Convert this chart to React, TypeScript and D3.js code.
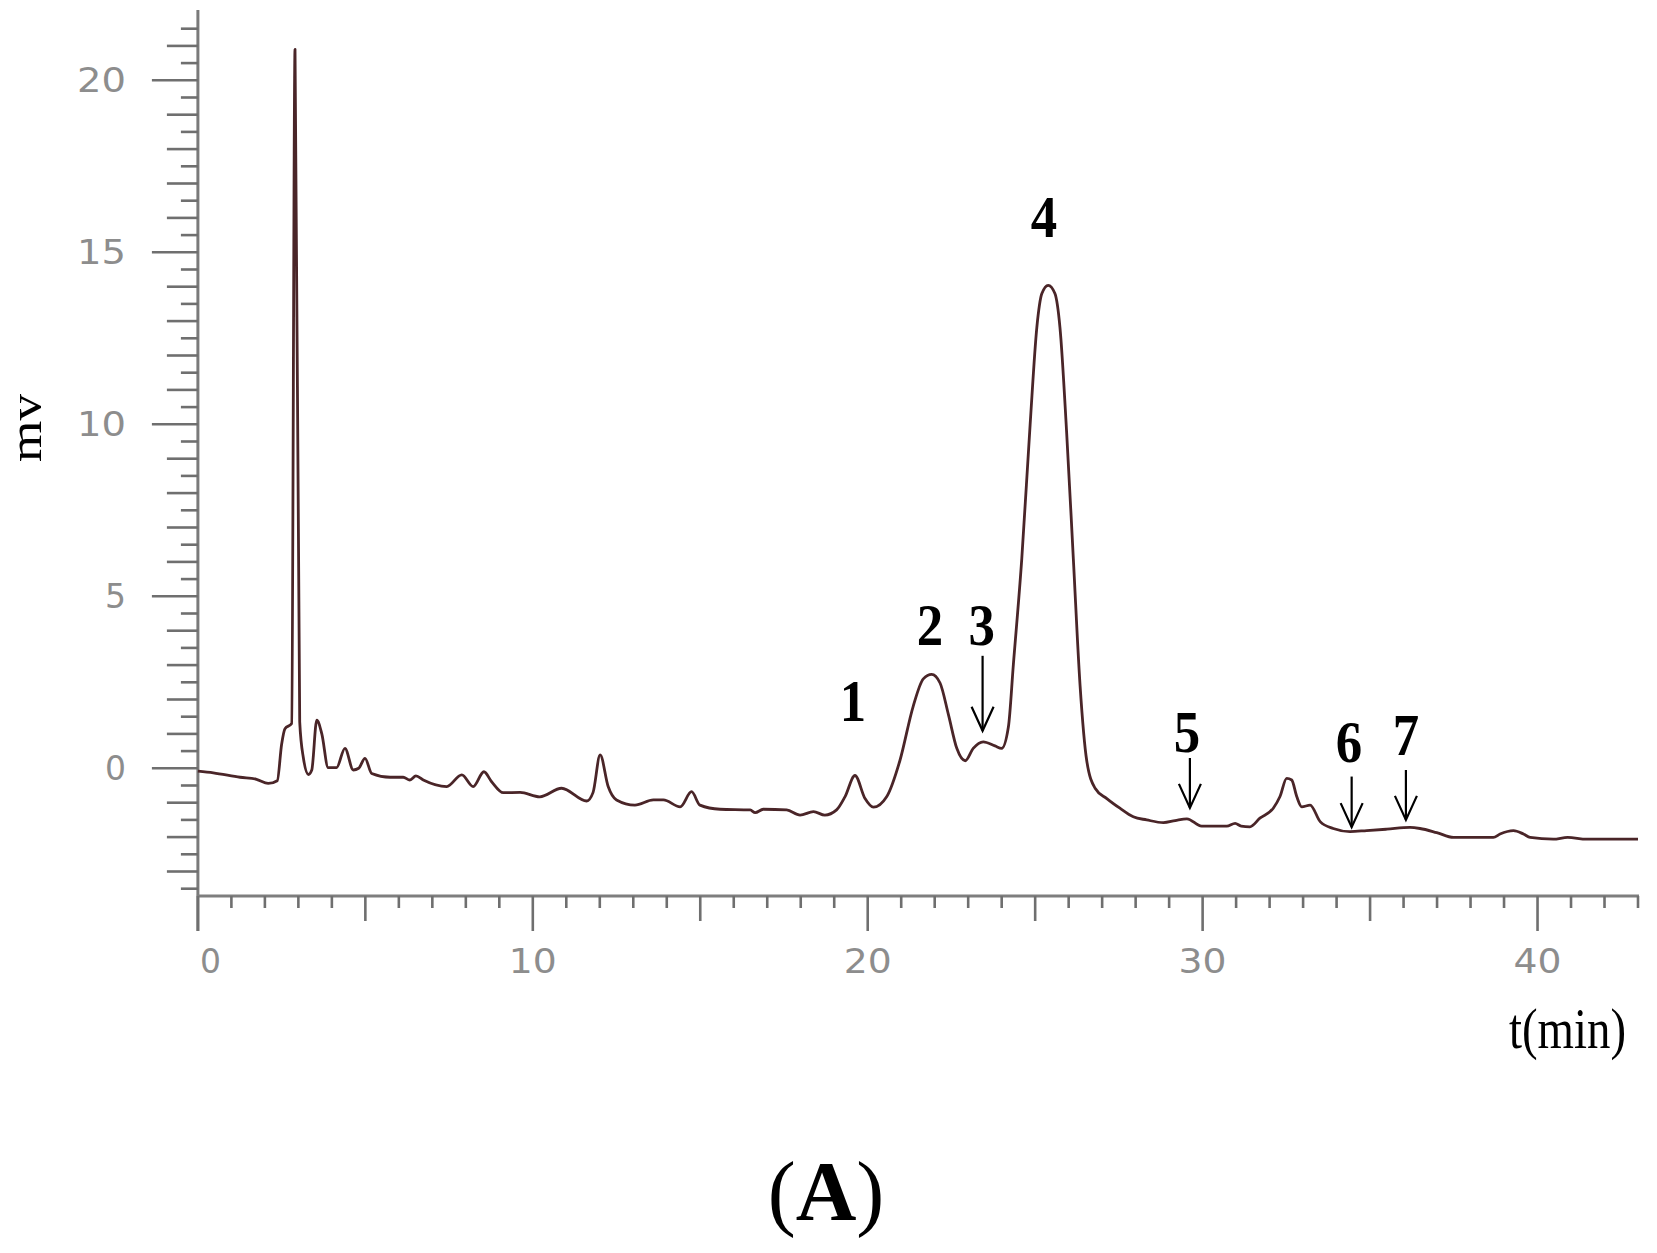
import React, { useEffect } from 'react';
import * as d3 from 'd3';

// retention time (min)
const time = [
  0.0, 0.46, 1.26, 1.75, 2.1, 2.37, 2.5, 2.6, 2.8, 2.9, 3.04, 3.15, 3.3, 3.4, 3.55, 3.7, 3.89, 4.14, 4.39, 4.64,
  4.8, 4.99, 5.19, 5.74, 6.13, 6.33, 6.51, 6.73, 7.43, 7.88, 8.22, 8.54, 8.77, 9.12, 9.62, 10.21, 10.86, 11.61,
  11.8, 12.01, 12.25, 12.5, 13.05, 13.6, 13.9, 14.4, 14.74, 14.99, 15.59, 16.49, 16.64, 16.88, 17.58, 17.98,
  18.38, 18.72, 19.07, 19.32, 19.62, 19.92, 20.17, 20.57, 20.96, 21.36, 21.66, 21.91, 22.16, 22.41, 22.66,
  22.91, 23.15, 23.45, 23.8, 24.0, 24.2, 24.35, 24.6, 24.85, 25.05, 25.2, 25.39, 25.59, 25.74, 25.94, 26.14,
  26.34, 26.54, 26.79, 27.14, 27.53, 27.93, 28.33, 28.83, 29.18, 29.53, 29.97, 30.72, 30.97, 31.15, 31.41,
  31.71, 32.11, 32.31, 32.51, 32.66, 32.81, 32.96, 33.21, 33.51, 33.9, 34.4, 34.9, 35.5, 36.19, 36.49, 36.99,
  37.49, 38.68, 38.88, 39.28, 39.58, 39.78, 40.47, 40.9, 41.47, 43.0,
];

// detector signal (mV)
const signal = [
  -0.08, -0.13, -0.26, -0.32, -0.44, -0.36, 0.7, 1.15, 1.3, 20.9, 1.35, 0.3, -0.18, -0.05, 1.4, 1.0, 0.02, 0.02,
  0.58, -0.05, 0.0, 0.29, -0.15, -0.26, -0.26, -0.34, -0.22, -0.34, -0.53, -0.19, -0.53, -0.1, -0.39, -0.71,
  -0.7, -0.83, -0.58, -0.95, -0.7, 0.39, -0.53, -0.92, -1.07, -0.92, -0.92, -1.12, -0.68, -1.07, -1.19, -1.21,
  -1.29, -1.19, -1.21, -1.36, -1.26, -1.36, -1.21, -0.83, -0.21, -0.88, -1.13, -0.82, 0.22, 1.81, 2.6, 2.73,
  2.48, 1.56, 0.58, 0.22, 0.58, 0.77, 0.65, 0.58, 1.2, 3.03, 6.09, 10.0, 12.82, 13.8, 14.04, 13.8, 12.82, 9.76,
  6.09, 2.42, 0.22, -0.58, -0.88, -1.16, -1.41, -1.5, -1.58, -1.52, -1.47, -1.68, -1.68, -1.6, -1.68, -1.7,
  -1.45, -1.16, -0.82, -0.29, -0.34, -0.82, -1.12, -1.07, -1.55, -1.75, -1.84, -1.81, -1.77, -1.72, -1.75,
  -1.87, -2.01, -2.01, -1.91, -1.81, -1.91, -2.01, -2.06, -2.01, -2.06, -2.06,
];

const yTickLabels = [0, 5, 10, 15, 20];
const xTickLabels = [0, 10, 20, 30, 40];

const peakNames = ['1', '2', '3', '4', '5', '6', '7'];
const peakLabelTime = [19.56, 21.86, 23.4, 25.26, 29.53, 34.37, 36.07];
const peakLabelValue = [1.38, 3.59, 3.59, 15.44, 0.47, 0.18, 0.39];

const arrowTime = [23.43, 29.62, 34.45, 36.07];
const arrowTop = [3.27, 0.3, -0.24, -0.05];
const arrowTip = [1.09, -1.15, -1.71, -1.5];

export default function App() {
  useEffect(() => {
    document.body.style.margin = '0';
  }, []);

  const W = 1657;
  const H = 1253;
  const x = d3.scaleLinear().domain([0, 43]).range([197.9, 1638]);
  const y = d3.scaleLinear().domain([0, 20]).range([768.3, 80.3]);

  const pts: [number, number][] = time.map((t, i) => [t, signal[i]]);
  const line = d3
    .line<[number, number]>()
    .x((d) => x(d[0]))
    .y((d) => y(d[1]))
    .curve(d3.curveMonotoneX);

  const yTicks = d3.range(-7, 44).map((k) => k / 2);
  const xTicks = d3.range(0, 44);
  const x0 = x(0);
  const axisY = 896;
  const tickColor = '#6f6f6f';
  const labelColor = '#8d8d8d';

  return (
    <svg
      width={W}
      height={H}
      viewBox={`0 0 ${W} ${H}`}
      style={{ position: 'absolute', left: 0, top: 0, display: 'block', background: '#fff' }}
    >
      <rect x={0} y={0} width={W} height={H} fill="#fff" />

      {/* y axis */}
      <line x1={x0} x2={x0} y1={10} y2={931} stroke="#7a7a7a" strokeWidth={3} />
      {yTicks.map((v) => {
        const isFive = Math.abs(v % 5) < 1e-9;
        const isInt = Math.abs(v - Math.round(v)) < 1e-9;
        const len = isFive ? 46 : isInt ? 31 : 17;
        return (
          <line key={`yt${v}`} x1={x0 - len} x2={x0} y1={y(v)} y2={y(v)} stroke={tickColor} strokeWidth={2.6} />
        );
      })}
      {yTickLabels.map((v) => {
        const s = String(v);
        return (
          <text
            key={`yl${v}`}
            x={126}
            y={y(v) + 12}
            textAnchor="end"
            fontFamily="DejaVu Sans"
            fontSize={33}
            fill={labelColor}
            textLength={s.length === 1 ? 21 : 49}
            lengthAdjust="spacingAndGlyphs"
          >
            {s}
          </text>
        );
      })}

      {/* x axis */}
      <line x1={x0 - 1} x2={x(43) + 1} y1={axisY} y2={axisY} stroke="#7e7e7e" strokeWidth={3.2} />
      {xTicks.map((t) => {
        const len = t % 10 === 0 ? 35 : t % 5 === 0 ? 25 : 12;
        return (
          <line key={`xt${t}`} x1={x(t)} x2={x(t)} y1={axisY} y2={axisY + len} stroke={tickColor} strokeWidth={2.6} />
        );
      })}
      {xTickLabels.map((t) => {
        const s = String(t);
        const w = s.length === 1 ? 21 : 48;
        const cx = Math.max(x(t), x0 + 2 + w / 2);
        return (
          <text
            key={`xl${t}`}
            x={cx}
            y={973}
            textAnchor="middle"
            fontFamily="DejaVu Sans"
            fontSize={33}
            fill={labelColor}
            textLength={w}
            lengthAdjust="spacingAndGlyphs"
          >
            {s}
          </text>
        );
      })}

      {/* axis titles */}
      <text
        transform={`translate(41,428) rotate(-90)`}
        textAnchor="middle"
        fontFamily="Liberation Serif"
        fontSize={46}
        fill="#000"
        textLength={68}
        lengthAdjust="spacingAndGlyphs"
      >
        mv
      </text>
      <text
        x={1567.5}
        y={1048}
        textAnchor="middle"
        fontFamily="Liberation Serif"
        fontSize={56}
        fill="#000"
        textLength={117}
        lengthAdjust="spacingAndGlyphs"
      >
        t(min)
      </text>

      {/* chromatogram trace */}
      <path d={line(pts) || ''} fill="none" stroke="#4a2528" strokeWidth={2.8} strokeLinejoin="round" />

      {/* peak labels */}
      {peakNames.map((n, i) => (
        <text
          key={`pk${n}`}
          transform={`translate(${x(peakLabelTime[i])},${y(peakLabelValue[i])}) scale(0.88,1)`}
          textAnchor="middle"
          fontFamily="Liberation Serif"
          fontWeight="bold"
          fontSize={60}
          fill="#000"
        >
          {n}
        </text>
      ))}

      {/* arrows */}
      {arrowTime.map((t, i) => {
        const ax = x(t);
        const y1 = y(arrowTop[i]);
        const y2 = y(arrowTip[i]);
        return (
          <g key={`ar${i}`} stroke="#000" strokeWidth={2.2} fill="none">
            <line x1={ax} x2={ax} y1={y1} y2={y2} />
            <path d={`M${ax - 11},${y2 - 24} L${ax},${y2} L${ax + 11},${y2 - 24}`} />
          </g>
        );
      })}

      {/* panel label */}
      <text x={826} y={1220} textAnchor="middle" fontFamily="Liberation Serif" fontSize={84} fill="#000">
        <tspan>(</tspan>
        <tspan fontWeight="bold">A</tspan>
        <tspan>)</tspan>
      </text>
    </svg>
  );
}
